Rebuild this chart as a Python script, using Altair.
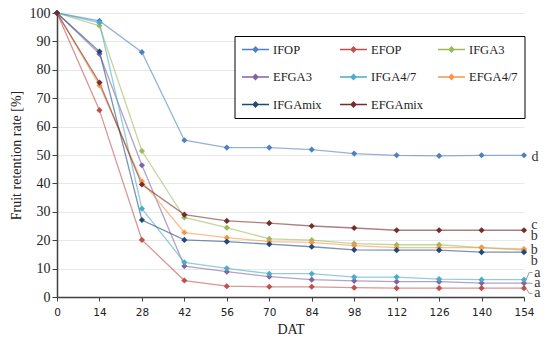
import altair as alt
import pandas as pd

# ---- data ----
dat = [0, 14, 28, 42, 56, 70, 84, 98, 112, 126, 140, 154]
series_names = ["IFOP", "EFOP", "IFGA3", "EFGA3", "IFGA4/7", "EFGA4/7", "IFGAmix", "EFGAmix"]
IFOP = [100, 97.2, 86.2, 55.2, 52.6, 52.6, 51.9, 50.5, 49.9, 49.7, 49.9, 49.9]
EFOP = [100, 65.8, 20.1, 5.8, 3.8, 3.6, 3.6, 3.3, 3.1, 3.1, 3.1, 3.1]
IFGA3 = [100, 95.5, 51.4, 28.0, 24.4, 20.5, 20.0, 18.8, 18.4, 18.4, 17.4, 16.5]
EFGA3 = [100, 85.6, 46.4, 10.9, 8.9, 7.2, 6.1, 5.7, 5.4, 5.4, 4.9, 4.9]
IFGA47 = [100, 96.6, 31.1, 12.2, 10.1, 8.2, 8.2, 7.0, 7.0, 6.3, 6.1, 6.1]
EFGA47 = [100, 74.5, 40.7, 22.7, 20.9, 19.5, 19.2, 18.1, 17.4, 17.4, 17.4, 16.9]
IFGAmix = [100, 86.4, 27.1, 20.1, 19.5, 18.6, 17.7, 16.6, 16.5, 16.5, 15.8, 15.8]
EFGAmix = [100, 75.5, 39.6, 29.0, 26.8, 26.0, 25.0, 24.3, 23.5, 23.5, 23.5, 23.5]
series_values = [IFOP, EFOP, IFGA3, EFGA3, IFGA47, EFGA47, IFGAmix, EFGAmix]
colors = ["#4F81BD", "#C0504D", "#9BBB59", "#8064A2", "#4BACC6", "#F79646", "#1F497D", "#772C2A"]

y_ticks = list(range(0, 101, 10))

# significance letters at the right end
letters = ["d", "c", "b", "b", "b", "a", "a", "a"]
letter_x = [157.6, 157.4, 157.4, 157.4, 157.4, 158.4, 158.4, 158.4]
letter_y = [49.4, 25.4, 21.5, 16.6, 12.8, 8.6, 4.8, 1.3]

# bracket connectors for the "a" letters (start at series end value, end at letter)
bracket_id = [1, 1, 1, 2, 2, 3, 3, 3]
bracket_x = [154.7, 155.7, 156.8, 154.7, 156.8, 154.7, 155.7, 156.8]
bracket_y = [6.1, 8.6, 8.6, 4.9, 4.8, 3.1, 1.3, 1.3]
bracket_ord = [0, 1, 2, 0, 1, 0, 1, 2]

# ---- tables ----
rows = []
for name, vals in zip(series_names, series_values):
    for d, v in zip(dat, vals):
        rows.append({"DAT": d, "series": name, "value": v})
df = pd.DataFrame(rows)
df_letters = pd.DataFrame({"DAT": letter_x, "value": letter_y, "txt": letters})
df_br = pd.DataFrame({"DAT": bracket_x, "value": bracket_y, "bid": bracket_id, "o": bracket_ord})

SERIF = "Liberation Serif, Times New Roman, serif"
SANS = "DejaVu Sans, Verdana, sans-serif"

legend_symbol = "M-1,0H1M-0.17,0L0,-0.17L0.17,0L0,0.17Z"
legend = alt.Legend(
    title=None, orient="none", legendX=177.5, legendY=23, columns=3, direction="horizontal",
    symbolType=legend_symbol, symbolSize=729, clipHeight=14, rowPadding=13.5,
    columnPadding=13, gridAlign="all", padding=6.5, strokeColor="black",
    fillColor="white", labelFont=SERIF, labelFontSize=12.5, labelColor="#222",
    labelOffset=3, symbolStrokeWidth=1.6, symbolOpacity=1,
)

color = alt.Color("series:N", scale=alt.Scale(domain=series_names, range=colors), legend=legend)
x = alt.X("DAT:Q", scale=alt.Scale(domain=[0, 154], nice=False, zero=False),
          axis=alt.Axis(values=dat, title="DAT", grid=False, labelFont=SANS,
                        labelFontSize=10.5, labelPadding=6, tickSize=4, titlePadding=5,
                        labelOverlap=False, labelFlush=False))
y = alt.Y("value:Q", scale=alt.Scale(domain=[0, 100], nice=False),
          axis=alt.Axis(values=y_ticks, title="Fruit retention rate [%]", grid=True,
                        labelFont=SERIF, labelFontSize=14, labelPadding=2, tickSize=5,
                        titlePadding=6, labelOverlap=False, labelFlush=False))

lines = alt.Chart(df).mark_line(strokeWidth=1.3, opacity=0.6).encode(
    x=x, y=y, color=color, order=alt.Order("DAT:Q"))
points = alt.Chart(df).mark_point(shape="diamond", filled=True, size=38, opacity=1).encode(
    x=x, y=y, color=color)
texts = alt.Chart(df_letters).mark_text(font=SERIF, fontSize=14, color="#333",
                                        align="center", baseline="middle").encode(
    x=x, y=y, text="txt:N")
brackets = alt.Chart(df_br).mark_line(color="#9a9a9a", strokeWidth=1).encode(
    x=x, y=y, detail="bid:N", order="o:Q")

chart = alt.layer(lines, points, brackets, texts).properties(
    width=467, height=284,
    autosize=alt.AutoSizeParams(type="none"),
    padding={"left": 49, "top": 5, "right": 18, "bottom": 39},
).configure_view(stroke=None).configure_axis(
    domainColor="#404040", domainWidth=1.5, tickColor="#404040", tickWidth=1,
    gridColor="#E8E8E8", gridWidth=1, labelColor="#222", titleColor="#222",
    titleFont=SERIF, titleFontSize=14, titleFontWeight="normal",
)

chart.save("out.html", embed_options={"renderer": "svg", "actions": False})
